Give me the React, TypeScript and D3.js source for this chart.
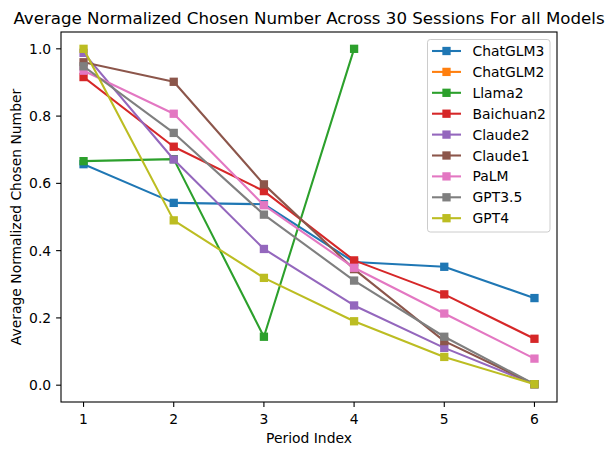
import React from 'react';
import * as d3 from 'd3';

const periods = [1, 2, 3, 4, 5, 6];

const chatglm3 = [0.657, 0.542, 0.538, 0.366, 0.352, 0.259];
const chatglm2: (number | null)[] = [null, null, null, null, null, null];
const llama2 = [0.666, 0.672, 0.144, 1.0, null, null];
const baichuan2 = [0.916, 0.709, 0.577, 0.371, 0.270, 0.138];
const claude2 = [0.988, 0.671, 0.405, 0.237, 0.111, 0.003];
const claude1 = [0.960, 0.902, 0.597, 0.345, 0.131, 0.003];
const palm = [0.935, 0.807, 0.535, 0.349, 0.213, 0.079];
const gpt35 = [0.948, 0.750, 0.507, 0.311, 0.144, 0.003];
const gpt4 = [1.0, 0.490, 0.319, 0.190, 0.084, 0.003];

const seriesNames = ['ChatGLM3', 'ChatGLM2', 'Llama2', 'Baichuan2', 'Claude2', 'Claude1', 'PaLM', 'GPT3.5', 'GPT4'];
const seriesValues = [chatglm3, chatglm2, llama2, baichuan2, claude2, claude1, palm, gpt35, gpt4];
const colors = ['#1f77b4', '#ff7f0e', '#2ca02c', '#d62728', '#9467bd', '#8c564b', '#e377c2', '#7f7f7f', '#bcbd22'];

const yTicks = [0.0, 0.2, 0.4, 0.6, 0.8, 1.0];

const W = 614;
const H = 455;
const margin = { left: 61, right: 57, top: 32, bottom: 53 };
const font = 'DejaVu Sans, sans-serif';

const App: React.FC = () => {
  const x = d3.scaleLinear().domain([0.75, 6.25]).range([margin.left, W - margin.right]);
  const y = d3.scaleLinear().domain([-0.05, 1.05]).range([H - margin.bottom, margin.top]);

  const line = d3.line<number | null>()
    .defined(d => d !== null)
    .x((_, i) => x(periods[i]))
    .y(d => y(d as number));

  const ms = 8.3;
  const legendX = 427.5;
  const legendY = 39.5;
  const rowH = 20.9;

  return (
    <svg width={W} height={H} style={{ position: 'absolute', left: 0, top: 0, background: '#fff' }} fontFamily={font}>
      <rect x={0} y={0} width={W} height={H} fill="#fff" />
      {/* series */}
      {seriesValues.map((vals, si) => (
        <g key={seriesNames[si]}>
          <path d={line(vals) || ''} fill="none" stroke={colors[si]} strokeWidth={2.08} strokeLinejoin="round" strokeLinecap="square" />
          {vals.map((v, i) => v === null ? null : (
            <rect key={i} x={x(periods[i]) - ms / 2} y={y(v) - ms / 2} width={ms} height={ms} fill={colors[si]} />
          ))}
        </g>
      ))}
      {/* frame */}
      <rect x={margin.left} y={margin.top} width={W - margin.left - margin.right} height={H - margin.top - margin.bottom} fill="none" stroke="#000" strokeWidth={1.1} />
      {/* x ticks */}
      {periods.map(p => (
        <g key={p}>
          <line x1={x(p)} x2={x(p)} y1={H - margin.bottom} y2={H - margin.bottom + 4.9} stroke="#000" strokeWidth={1.1} />
          <text x={x(p)} y={H - margin.bottom + 21.5} textAnchor="middle" fontSize={13.9}>{p}</text>
        </g>
      ))}
      {/* y ticks */}
      {yTicks.map(t => (
        <g key={t}>
          <line x1={margin.left - 4.9} x2={margin.left} y1={y(t)} y2={y(t)} stroke="#000" strokeWidth={1.1} />
          <text x={margin.left - 9.8} y={y(t)} dy="0.36em" textAnchor="end" fontSize={13.9}>{t.toFixed(1)}</text>
        </g>
      ))}
      {/* labels */}
      <text x={(margin.left + W - margin.right) / 2} y={442.5} textAnchor="middle" fontSize={13.9}>Period Index</text>
      <text transform={`translate(21,${(margin.top + H - margin.bottom) / 2}) rotate(-90)`} textAnchor="middle" fontSize={13.9}>Average Normalized Chosen Number</text>
      <text x={(margin.left + W - margin.right) / 2} y={23.5} textAnchor="middle" fontSize={16.67}>Average Normalized Chosen Number Across 30 Sessions For all Models</text>
      {/* legend */}
      <rect x={legendX} y={legendY} width={122.5} height={192.5} rx={2.8} fill="#fff" fillOpacity={0.8} stroke="#cccccc" strokeWidth={1} />
      {seriesNames.map((name, i) => {
        const cy = legendY + 11.5 + i * rowH;
        return (
          <g key={name}>
            <line x1={legendX + 4.5} x2={legendX + 33.5} y1={cy} y2={cy} stroke={colors[i]} strokeWidth={2.08} />
            <rect x={legendX + 19 - ms / 2} y={cy - ms / 2} width={ms} height={ms} fill={colors[i]} />
            <text x={legendX + 45} y={cy} dy="0.36em" fontSize={13.9}>{name}</text>
          </g>
        );
      })}
    </svg>
  );
};

export default App;
